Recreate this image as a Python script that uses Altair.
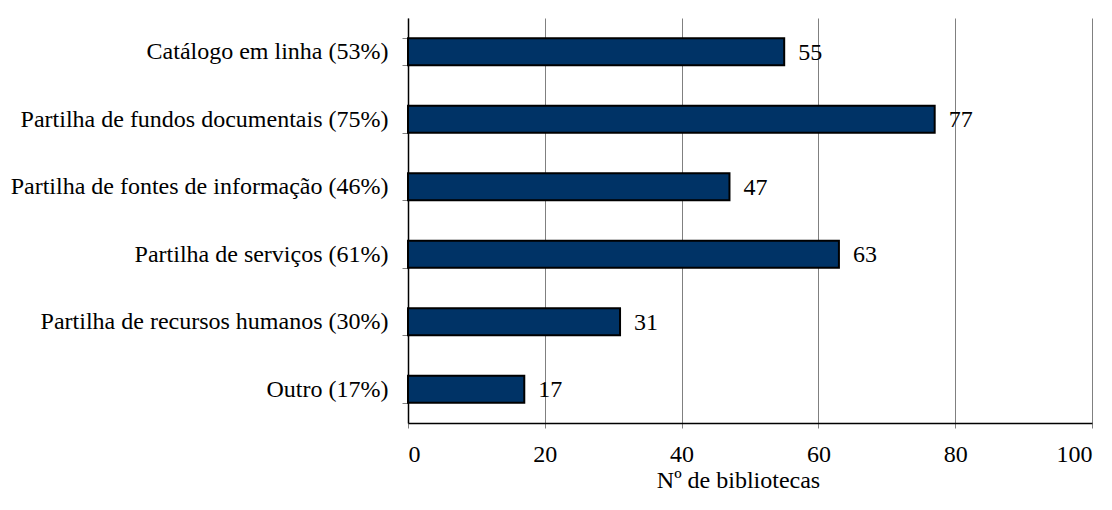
import altair as alt
import pandas as pd

categories = [
    "Catálogo em linha (53%)",
    "Partilha de fundos documentais (75%)",
    "Partilha de fontes de informação (46%)",
    "Partilha de serviços (61%)",
    "Partilha de recursos humanos (30%)",
    "Outro (17%)",
]
values = [55, 77, 47, 63, 31, 17]
x_ticks = [0, 20, 40, 60, 80, 100]

df = pd.DataFrame({"cat": categories, "n": values})

FONT = "Liberation Serif"
FS = 24

x = alt.X(
    "n:Q",
    scale=alt.Scale(domain=[0, 100], nice=False),
    axis=alt.Axis(
        values=x_ticks,
        title="Nº de bibliotecas",
        grid=True,
        gridColor="#808080",
        gridWidth=1,
        domainColor="black",
        domainWidth=1.5,
        tickColor="#808080",
        tickSize=5,
        labelPadding=14,
        titlePadding=2,
        titleX=330,
        labelFont=FONT,
        labelFontSize=FS,
        labelColor="black",
        titleFont=FONT,
        titleFontSize=FS,
        titleFontWeight="normal",
        titleColor="black",
    ),
)
y = alt.Y(
    "cat:N",
    sort=categories,
    scale=alt.Scale(paddingInner=0.6, paddingOuter=0.3),
    axis=alt.Axis(
        title=None,
        tickBand="extent",
        tickSize=6,
        tickColor="#808080",
        domainColor="black",
        domainWidth=1.5,
        labelPadding=14,
        labelLimit=0,
        labelFont=FONT,
        labelFontSize=FS,
        labelColor="black",
        grid=False,
    ),
)

bars = alt.Chart(df).mark_bar(
    color="#003366", stroke="black", strokeWidth=2
).encode(x=x, y=y)

labels = alt.Chart(df).mark_text(
    align="left", baseline="middle", dx=14, dy=1, font=FONT, fontSize=FS, color="black"
).encode(x="n:Q", y=alt.Y("cat:N", sort=categories), text="n:Q")

chart = (
    alt.layer(bars, labels)
    .properties(
        width=684,
        height=405,
        autosize=alt.AutoSizeParams(type="none"),
        padding={"left": 408, "top": 18, "right": 20, "bottom": 87},
    )
    .configure_view(stroke=None)
    .configure_axisY(grid=False)
)

chart.save("out.html", embed_options={"renderer": "svg", "actions": False})
